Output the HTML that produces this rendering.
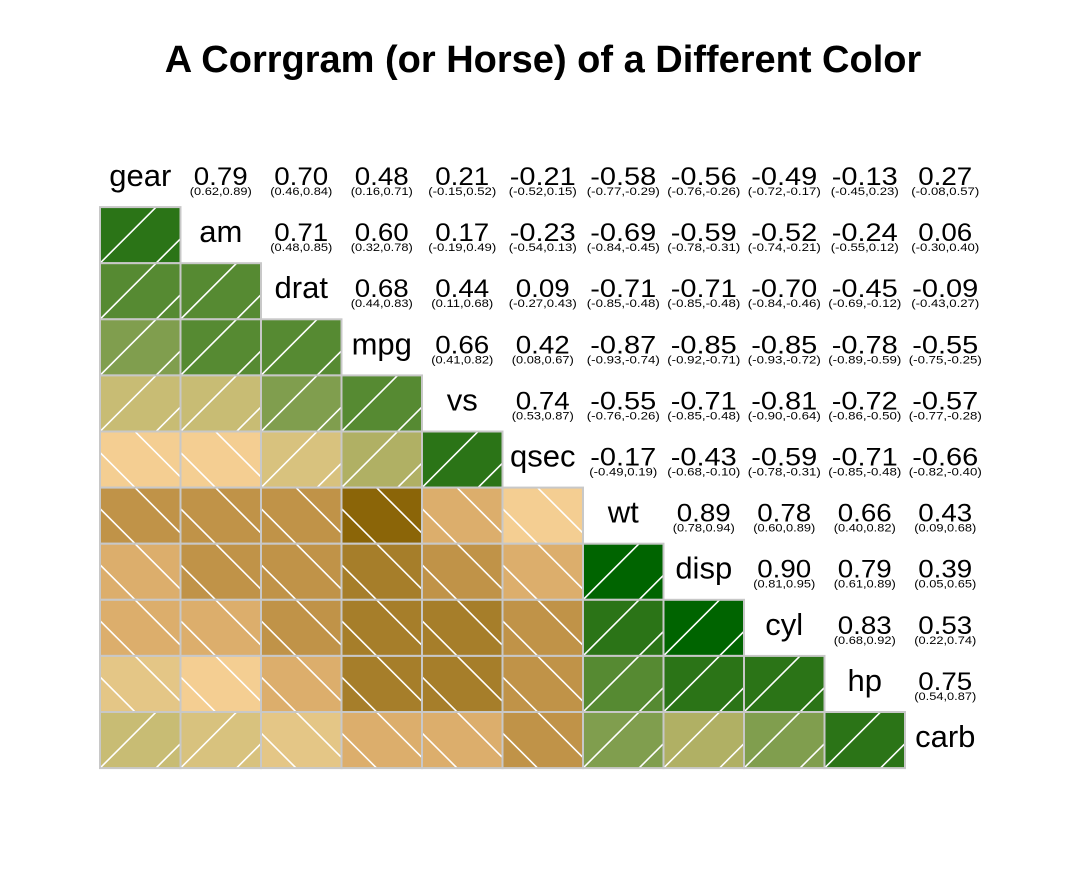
<!DOCTYPE html>
<html><head><meta charset="utf-8"><style>
body{margin:0;background:#fff}
svg text{font-family:"Liberation Sans",sans-serif}
</style></head><body>
<svg id="c" width="1086" height="870">
<text x="543" y="72" text-anchor="middle" font-size="38" font-weight="bold">A Corrgram (or Horse) of a Different Color</text>
</svg>
<script>
const vars=["gear","am","drat","mpg","vs","qsec","wt","disp","cyl","hp","carb"];
const upperR=[
[0.79,0.70,0.48,0.21,-0.21,-0.58,-0.56,-0.49,-0.13,0.27],
[0.71,0.60,0.17,-0.23,-0.69,-0.59,-0.52,-0.24,0.06],
[0.68,0.44,0.09,-0.71,-0.71,-0.70,-0.45,-0.09],
[0.66,0.42,-0.87,-0.85,-0.85,-0.78,-0.55],
[0.74,-0.55,-0.71,-0.81,-0.72,-0.57],
[-0.17,-0.43,-0.59,-0.71,-0.66],
[0.89,0.78,0.66,0.43],
[0.90,0.79,0.39],
[0.83,0.53],
[0.75]];
const upperCI=[
["(0.62,0.89)","(0.46,0.84)","(0.16,0.71)","(-0.15,0.52)","(-0.52,0.15)","(-0.77,-0.29)","(-0.76,-0.26)","(-0.72,-0.17)","(-0.45,0.23)","(-0.08,0.57)"],
["(0.48,0.85)","(0.32,0.78)","(-0.19,0.49)","(-0.54,0.13)","(-0.84,-0.45)","(-0.78,-0.31)","(-0.74,-0.21)","(-0.55,0.12)","(-0.30,0.40)"],
["(0.44,0.83)","(0.11,0.68)","(-0.27,0.43)","(-0.85,-0.48)","(-0.85,-0.48)","(-0.84,-0.46)","(-0.69,-0.12)","(-0.43,0.27)"],
["(0.41,0.82)","(0.08,0.67)","(-0.93,-0.74)","(-0.92,-0.71)","(-0.93,-0.72)","(-0.89,-0.59)","(-0.75,-0.25)"],
["(0.53,0.87)","(-0.76,-0.26)","(-0.85,-0.48)","(-0.90,-0.64)","(-0.86,-0.50)","(-0.77,-0.28)"],
["(-0.49,0.19)","(-0.68,-0.10)","(-0.78,-0.31)","(-0.85,-0.48)","(-0.82,-0.40)"],
["(0.78,0.94)","(0.60,0.89)","(0.40,0.82)","(0.09,0.68)"],
["(0.81,0.95)","(0.61,0.89)","(0.05,0.65)"],
["(0.68,0.92)","(0.22,0.74)"],
["(0.54,0.87)"]];
const palette=["#8B6508","#A67E2A","#C09348","#DCAE6C","#E8BE7E","#F4CE92","#E4C686","#D8C27E","#C8BC74","#B0B064","#809E4E","#568A32","#2B7417","#006400"];
const svg=document.getElementById('c');const NS="http://www.w3.org/2000/svg";
const X0=100,CW=80.5,Y0=151,CH=56.1;
const cx=j=>X0+j*CW, cy=i=>Y0+i*CH;
function col(r){let k=Math.floor((r+1)*7);k=Math.max(0,Math.min(13,k));return palette[k];}
function el(t,a,p){const e=document.createElementNS(NS,t);for(const k in a)e.setAttribute(k,a[k]);(p||svg).appendChild(e);return e;}
function R(i,j){return i<j?upperR[i][j-i-1]:upperR[j][i-j-1];}
vars.forEach((v,i)=>{const t=el('text',{x:cx(i)+CW/2,y:cy(i)+35,'text-anchor':'middle','font-size':31});t.textContent=v;

});
for(let i=1;i<11;i++)for(let j=0;j<i;j++){const r=R(i,j);const g=el('g',{});


const x=cx(j),y=cy(i),w=CW,h=CH;const cid='cp'+i+'_'+j;
const cp=el('clipPath',{id:cid},g);el('rect',{x:x,y:y,width:w,height:h},cp);
el('rect',{x:x,y:y,width:w,height:h,fill:col(r)},g);
const lg=el('g',{'clip-path':'url(#'+cid+')',stroke:'#fff','stroke-width':1.6},g);
for(let k=-2;k<=3;k++){const o=k*56+(r>=0?0:35);
if(r>=0){el('line',{x1:x+o-10,y1:y+h+10,x2:x+o+h+20,y2:y-20},lg);}
else{el('line',{x1:x+o-10,y1:y-10,x2:x+o+h+20,y2:y+h+20},lg);}}
el('rect',{x:x,y:y,width:w,height:h,fill:'none',stroke:'#c8c8c8','stroke-width':2},g);}
for(let i=0;i<10;i++)for(let j=i+1;j<11;j++){const r=upperR[i][j-i-1];const x=cx(j)+CW/2,y=cy(i);
const s=r.toFixed(2);
const t=el('text',{x:x,y:y+34,'text-anchor':'middle','font-size':25,textLength:(s.length==5?66:54),lengthAdjust:'spacingAndGlyphs'});t.textContent=s;


const ci=upperCI[i][j-i-1];
const c=el('text',{x:x,y:y+44,'text-anchor':'middle','font-size':11,textLength:Math.round(ci.length*5.65),lengthAdjust:'spacingAndGlyphs'});c.textContent=ci;

}
</script>
</body></html>
